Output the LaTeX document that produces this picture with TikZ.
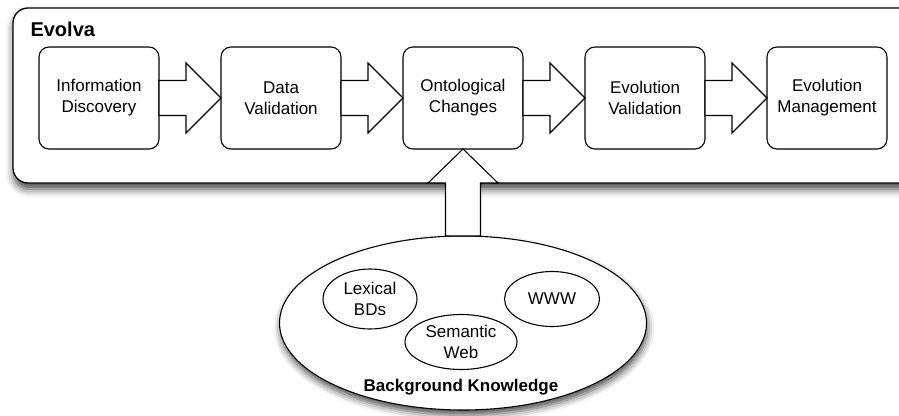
\documentclass[tikz,border=0pt]{standalone}
\usepackage{fontspec}
\setmainfont{Liberation Sans}
\usetikzlibrary{positioning,shapes.geometric,shadows.blur}

\tikzset{
  frame/.style={draw, fill=white, rounded corners=15pt, line width=1.3pt, minimum width=902pt, minimum height=175pt, outer sep=0pt,
    blur shadow={shadow xshift=1pt, shadow yshift=-6pt, shadow blur radius=8pt, shadow opacity=75}},
  stage/.style={draw, fill=white, rounded corners=10pt, line width=1.1pt, minimum width=120pt, minimum height=102pt, inner sep=2pt, outer sep=0pt, align=center, font=\fontsize{17}{21}\selectfont},
  fatarrow/.style={draw, fill=white, line width=1.1pt, line join=miter},
  source/.style={draw, fill=white, ellipse, line width=1.1pt, inner sep=0pt, outer sep=0pt, align=center, font=\fontsize{17}{21}\selectfont},
}

\begin{document}
\begin{tikzpicture}[x=1pt,y=-1pt]
\useasboundingbox (0,0) rectangle (899,415);
\clip (0,0) rectangle (899,415);
\node[frame] (evolva) at (464,95.5) {};
\node[anchor=base west, font=\bfseries\fontsize{20}{24}\selectfont] (title) at (27,36) {Evolva};
\node[stage] (info) at (99,98) {Information\\Discovery};
\node[stage, right=62pt of info] (data) {Data\\Validation};
\node[stage, right=62pt of data] (onto) {Ontological\\Changes};
\node[stage, right=62pt of onto] (evval) {Evolution\\Validation};
\node[stage, right=62pt of evval] (evman) {Evolution\\Management};
\draw[fatarrow] (info.east) ++(0,-17.5) -- ++(27,0) -- ++(0,-17.5) -- (data.west) -- ++(-35,35) -- ++(0,-17.5) -- ++(-27,0) -- cycle;
\draw[fatarrow] (data.east) ++(0,-17.5) -- ++(27,0) -- ++(0,-17.5) -- (onto.west) -- ++(-35,35) -- ++(0,-17.5) -- ++(-27,0) -- cycle;
\draw[fatarrow] (onto.east) ++(0,-17.5) -- ++(27,0) -- ++(0,-17.5) -- (evval.west) -- ++(-35,35) -- ++(0,-17.5) -- ++(-27,0) -- cycle;
\draw[fatarrow] (evval.east) ++(0,-17.5) -- ++(27,0) -- ++(0,-17.5) -- (evman.west) -- ++(-35,35) -- ++(0,-17.5) -- ++(-27,0) -- cycle;
\node[source, minimum width=367pt, minimum height=174pt,
  blur shadow={shadow xshift=1pt, shadow yshift=-5pt, shadow blur radius=7pt, shadow opacity=70}] (bk) at (463,323) {};
\node[source, minimum width=94pt, minimum height=60pt] (lex) at (370,299) {Lexical\\BDs};
\node[source, minimum width=112pt, minimum height=55pt] (sem) at (461,342) {Semantic\\Web};
\node[source, minimum width=95pt, minimum height=55pt] (www) at (552,299) {WWW};
\node[font=\bfseries\fontsize{17}{21}\selectfont] (bklabel) at (461,387) {Background Knowledge};
\draw[fatarrow] (bk.north) ++(-17.5,0) -- ++(0,-53) -- ++(-17.5,0) -- (onto.south) -- ++(35,34) -- ++(-17.5,0) -- ++(0,53) -- cycle;
\end{tikzpicture}
\end{document}
